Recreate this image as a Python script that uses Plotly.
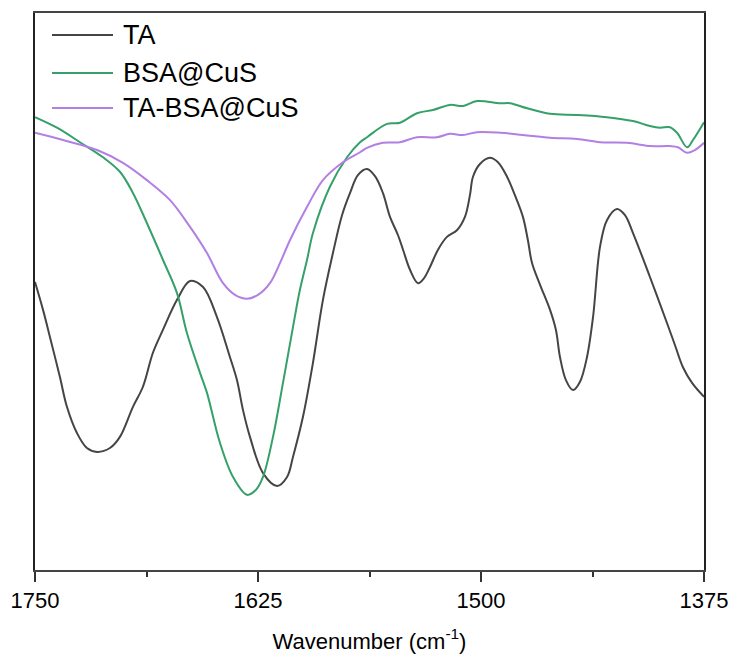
import plotly.graph_objects as go

# FTIR spectra, amide region (transmittance, arbitrary units)
wn_ta = [1750.0, 1745.5, 1741.6, 1736.0, 1732.1, 1726.5, 1720.9, 1715.2, 1708.0, 1702.4,
         1695.1, 1689.5, 1683.9, 1678.3, 1670.4, 1663.1, 1655.8, 1648.0, 1640.7, 1636.8,
         1633.4, 1629.5, 1622.2, 1614.3, 1608.7, 1605.4, 1599.8, 1594.2, 1588.6, 1583.0,
         1577.9, 1573.4, 1569.0, 1563.9, 1559.4, 1555.0, 1551.0, 1546.5, 1543.7, 1539.8,
         1535.3, 1531.9, 1528.6, 1524.1, 1519.1, 1513.5, 1509.0, 1506.2, 1504.5, 1500.6,
         1495.0, 1490.5, 1485.4, 1481.0, 1476.5, 1473.7, 1471.4, 1466.9, 1461.3, 1458.0,
         1455.7, 1452.4, 1448.4, 1444.5, 1440.6, 1437.2, 1433.3, 1429.4, 1423.8, 1419.3,
         1414.8, 1405.3, 1395.7, 1391.3, 1386.8, 1381.7, 1375.0]
t_ta = [51.7, 46.7, 41.8, 34.6, 29.3, 24.6, 21.9, 21.2, 21.9, 23.9,
        29.3, 32.9, 39.0, 43.1, 48.5, 51.9, 50.8, 45.4, 38.2, 34.1,
        28.7, 23.9, 17.4, 15.1, 16.7, 20.3, 27.5, 37.2, 48.5, 56.9,
        63.7, 67.7, 70.9, 72.0, 70.7, 67.7, 63.4, 60.1, 57.5, 53.9,
        51.5, 52.4, 54.4, 57.5, 59.8, 61.0, 63.4, 67.3, 70.6, 72.9,
        74.0, 73.2, 70.6, 67.3, 63.4, 59.2, 55.1, 51.2, 46.7, 43.1,
        38.2, 34.1, 32.3, 33.8, 38.2, 45.4, 58.0, 62.8, 64.8, 63.7,
        60.5, 52.6, 44.3, 40.4, 36.4, 33.6, 31.1]

wn_bsa = [1750.0, 1737.7, 1724.8, 1711.9, 1702.4, 1695.1, 1687.3, 1678.3, 1670.4, 1664.8,
          1657.5, 1653.6, 1646.3, 1639.0, 1631.2, 1626.1, 1622.2, 1616.6, 1611.0, 1605.4,
          1601.5, 1597.5, 1594.2, 1584.7, 1575.1, 1567.8, 1563.9, 1552.7, 1545.4, 1535.9,
          1526.9, 1517.4, 1510.1, 1502.2, 1489.3, 1483.7, 1474.2, 1461.3, 1446.2, 1429.4,
          1414.8, 1405.3, 1399.7, 1394.1, 1390.1, 1384.5, 1381.2, 1375.0]
t_bsa = [81.3, 79.4, 76.8, 74.1, 71.5, 67.7, 62.3, 55.7, 49.7, 42.5,
         35.4, 31.8, 22.8, 16.7, 13.5, 14.4, 16.7, 23.9, 33.6, 43.6,
         50.3, 55.7, 60.5, 68.8, 74.1, 76.8, 77.7, 80.1, 80.3, 82.0,
         82.6, 83.5, 83.3, 84.2, 83.8, 83.8, 82.9, 81.9, 81.7, 81.3,
         80.6, 79.7, 79.4, 79.5, 78.5, 75.9, 77.2, 80.4]

wn_tabsa = [1750.0, 1734.3, 1715.2, 1700.7, 1687.3, 1674.3, 1663.1, 1653.6, 1644.6, 1637.9,
            1631.2, 1625.0, 1618.3, 1612.7, 1607.1, 1597.5, 1588.6, 1577.4, 1567.8, 1563.9,
            1555.0, 1545.4, 1535.9, 1524.7, 1517.4, 1510.1, 1502.2, 1489.3, 1476.5, 1461.3,
            1446.2, 1433.3, 1418.2, 1405.3, 1394.1, 1389.6, 1384.5, 1380.1, 1375.0]
t_tabsa = [78.5, 77.2, 75.4, 73.1, 70.0, 66.4, 61.6, 56.9, 51.5, 49.4,
           48.7, 49.4, 51.5, 55.1, 59.2, 65.2, 70.0, 73.2, 75.0, 75.8,
           76.7, 76.8, 77.7, 77.7, 78.3, 78.1, 78.6, 78.5, 78.1, 77.6,
           77.4, 76.8, 76.7, 76.1, 76.1, 75.9, 74.9, 75.4, 76.7]

names = ["TA", "BSA@CuS", "TA-BSA@CuS"]
colors = ["#454545", "#35a06a", "#b27fe2"]
series = [(wn_ta, t_ta), (wn_bsa, t_bsa), (wn_tabsa, t_tabsa)]

tick_vals = [1750, 1625, 1500, 1375]
minor_vals = [1687.5, 1562.5, 1437.5]

FONT = "Arial, Liberation Sans, sans-serif"

fig = go.Figure()
for (x, y), name, color in zip(series, names, colors):
    fig.add_trace(go.Scatter(
        x=x, y=y, name=name, mode="lines",
        line=dict(color=color, width=2, shape="spline", smoothing=1.0),
        showlegend=False,
    ))

# Legend drawn as line samples with labels in the upper-left corner
leg_y = [0.9605, 0.8923, 0.8294]
for name, color, yy in zip(names, colors, leg_y):
    fig.add_shape(type="line", xref="paper", yref="paper",
                  x0=0.0254, x1=0.1166, y0=yy, y1=yy,
                  line=dict(color=color, width=2))
    fig.add_annotation(xref="paper", yref="paper", x=0.128, y=yy,
                       text=name, showarrow=False, xanchor="left", yanchor="middle",
                       font=dict(family=FONT, size=27, color="#000000"))

fig.update_layout(
    width=735, height=657,
    margin=dict(l=35, r=31, t=13, b=87, autoexpand=False),
    paper_bgcolor="white", plot_bgcolor="white",
    font=dict(family=FONT, color="#000000"),
)
fig.update_xaxes(
    range=[1750, 1375], automargin=False,
    tickvals=tick_vals, ticktext=[str(v) for v in tick_vals],
    ticks="outside", ticklen=10, tickwidth=1.5, tickcolor="#333333",
    minor=dict(tickvals=minor_vals, ticks="outside", ticklen=5,
               tickwidth=1.5, tickcolor="#333333"),
    tickfont=dict(family=FONT, size=22, color="#000000"),
    showline=True, linecolor="#444444", linewidth=1.5, mirror=True,
    showgrid=False, zeroline=False,
    title=dict(text="Wavenumber (cm<sup>-1</sup>)", standoff=21,
               font=dict(family=FONT, size=22, color="#000000")),
)
fig.update_yaxes(
    range=[0, 100], automargin=False,
    showticklabels=False, ticks="",
    showline=True, linecolor="#222222", linewidth=2, mirror=True,
    showgrid=False, zeroline=False,
)

fig.write_html("out.html")
